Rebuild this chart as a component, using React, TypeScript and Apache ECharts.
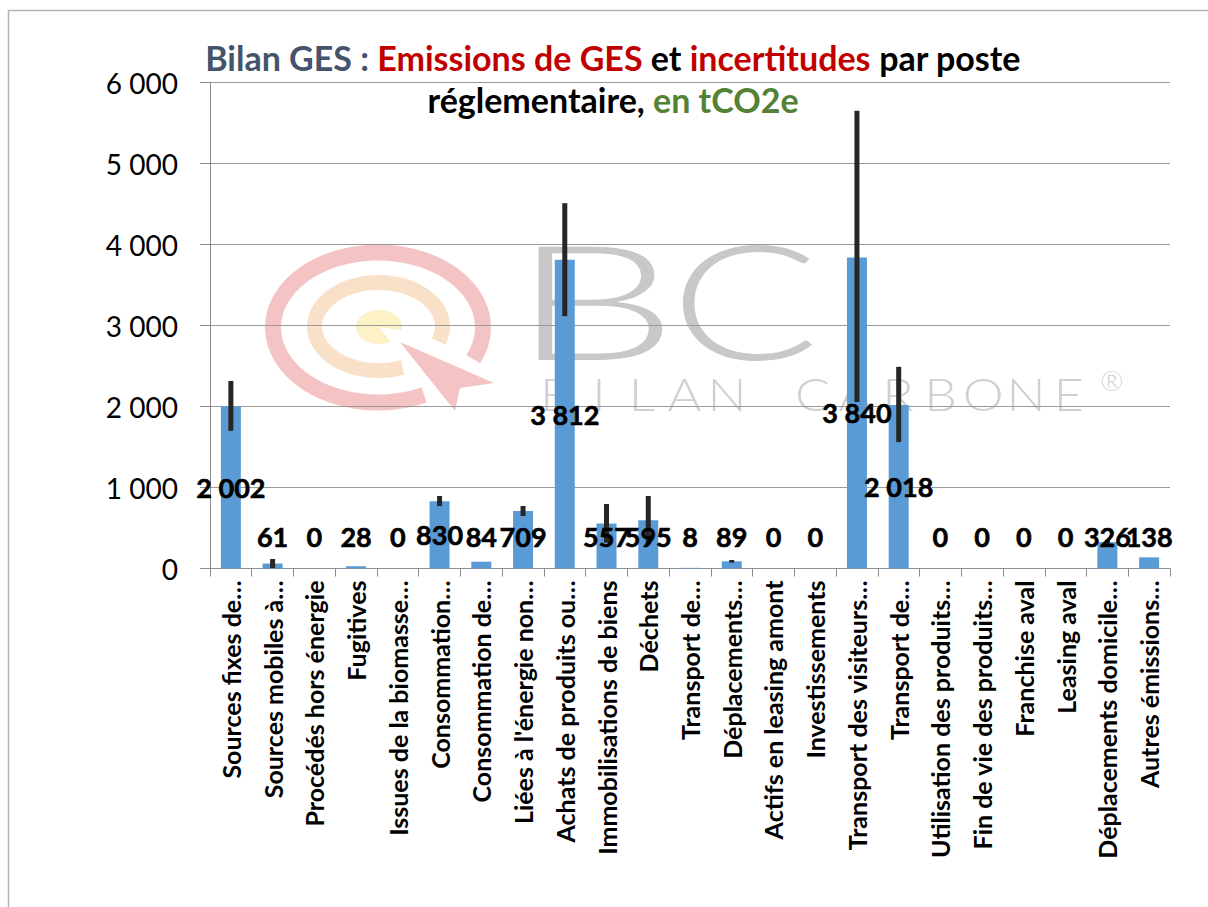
import React, { useEffect, useRef } from "react";
import * as echarts from "echarts";

const categories = [
  "Sources fixes de…",
  "Sources mobiles à…",
  "Procédés hors énergie",
  "Fugitives",
  "Issues de la biomasse…",
  "Consommation…",
  "Consommation de…",
  "Liées à l'énergie non…",
  "Achats de produits ou…",
  "Immobilisations de biens",
  "Déchets",
  "Transport de…",
  "Déplacements…",
  "Actifs en leasing amont",
  "Investissements",
  "Transport des visiteurs…",
  "Transport de…",
  "Utilisation des produits…",
  "Fin de vie des produits…",
  "Franchise aval",
  "Leasing aval",
  "Déplacements domicile…",
  "Autres émissions…",
];

const values = [2002, 61, 0, 28, 0, 830, 84, 709, 3812, 557, 595, 8, 89, 0, 0, 3840, 2018, 0, 0, 0, 0, 326, 138];

const errorLow: (number | null)[] = [1700, 5, null, null, null, 770, null, 648, 3115, 318, 295, null, 73, null, null, 2055, 1560, null, null, null, null, 296, null];
const errorHigh: (number | null)[] = [2315, 117, null, null, null, 895, null, 772, 4510, 796, 895, null, 105, null, null, 5650, 2490, null, null, null, null, 356, null];

const yMin = 0;
const yMax = 6000;
const yStep = 1000;

const labelFloor = 395;

function fmt(v: number): string {
  return String(v).replace(/\B(?=(\d{3})+(?!\d))/g, " ");
}

function ellipseArc(cx: number, cy: number, rx: number, ry: number, a0: number, a1: number) {
  const pts: number[][] = [];
  const n = 90;
  for (let k = 0; k <= n; k++) {
    const t = ((a0 + ((a1 - a0) * k) / n) * Math.PI) / 180;
    pts.push([cx + rx * Math.cos(t), cy + ry * Math.sin(t)]);
  }
  return pts;
}

function buildWatermark(): any[] {
  const Z = -10;
  const els: any[] = [];
  els.push({
    type: "polyline",
    z: Z,
    silent: true,
    shape: { points: ellipseArc(378, 327.5, 105, 75, 64, 385) },
    style: { stroke: "#F4C4C4", lineWidth: 16, fill: null },
  });
  els.push({
    type: "polyline",
    z: Z,
    silent: true,
    shape: { points: ellipseArc(378.5, 326.5, 64, 44, 68, 380) },
    style: { stroke: "#F8E1C8", lineWidth: 15, fill: null },
  });
  const yel = ellipseArc(379, 327, 23, 17, 60, 372);
  yel.push([379, 327]);
  els.push({
    type: "polygon",
    z: Z,
    silent: true,
    shape: { points: yel },
    style: { fill: "#FDF1C6" },
  });
  els.push({
    type: "polygon",
    z: Z,
    silent: true,
    shape: { points: [[400, 342], [494, 383], [460, 388], [455, 411]] },
    style: { fill: "#F4C4C4" },
  });
  els.push({
    type: "text",
    z: Z,
    silent: true,
    x: 511,
    y: 298,
    scaleX: 1.65,
    style: { text: "B", fill: "#C8C8C8", fontSize: 160, fontWeight: 300, fontFamily: "Lato", verticalAlign: "middle", align: "left" },
  });
  els.push({
    type: "text",
    z: Z,
    silent: true,
    x: 670,
    y: 298,
    scaleX: 1.38,
    style: { text: "C", fill: "#C8C8C8", fontSize: 160, fontWeight: 300, fontFamily: "Lato", verticalAlign: "middle", align: "left" },
  });
  const word = "BILAN CARBONE";
  const pitch = 42.7;
  for (let k = 0; k < word.length; k++) {
    els.push({
      type: "text",
      z: Z,
      silent: true,
      x: 535 + k * pitch + pitch / 2,
      y: 393,
      scaleX: 1.15,
      style: {
        text: word[k],
        fill: "#D0D0D0",
        fontSize: 45,
        fontWeight: 300,
        fontFamily: "Lato",
        align: "center",
        verticalAlign: "middle",
      },
    });
  }
  els.push({
    type: "text",
    z: Z,
    silent: true,
    x: 1100,
    y: 366,
    style: { text: "®", fill: "#D0D0D0", fontSize: 28, fontWeight: 300, fontFamily: "Lato", align: "left", verticalAlign: "top" },
  });
  els.push({
    type: "line",
    z: Z,
    silent: true,
    shape: { x1: 8, y1: 10.5, x2: 1208, y2: 10.5 },
    style: { stroke: "#B5B5B5", lineWidth: 1.5 },
  });
  els.push({
    type: "line",
    z: Z,
    silent: true,
    shape: { x1: 8.5, y1: 10, x2: 8.5, y2: 907 },
    style: { stroke: "#B5B5B5", lineWidth: 1.5 },
  });
  return els;
}

export default function App() {
  const ref = useRef<HTMLDivElement>(null);

  useEffect(() => {
    document.body.style.margin = "0";
    document.body.style.overflow = "hidden";
    if (!ref.current) return;
    const chart = echarts.init(ref.current, undefined, { renderer: "svg" });

    const errData = values
      .map((_, i) => (errorLow[i] != null && errorHigh[i] != null ? [i, errorLow[i], errorHigh[i]] : null))
      .filter((d) => d !== null);

    const labelData = values.map((v, i) => [i, Math.max(v / 2, labelFloor), v]);

    const font = "Lato, 'Open Sans', sans-serif";
    const tfs = 34;
    const lh = 42;

    chart.setOption({
      animation: false,
      backgroundColor: "#ffffff",
      title: {
        text:
          "{a|Bilan GES : }{r|Emissions de GES}{k| et }{r|incertitudes}{k| par poste}\n{k|réglementaire, }{g|en tCO2e}",
        left: 613,
        top: 36,
        padding: 0,
        textAlign: "center",
        textStyle: {
          fontFamily: font,
          fontSize: tfs,
          fontWeight: "bold",
          lineHeight: lh,
          rich: {
            a: { color: "#44546A", fontSize: tfs, fontWeight: "bold", fontFamily: font, lineHeight: lh },
            r: { color: "#C00000", fontSize: tfs, fontWeight: "bold", fontFamily: font, lineHeight: lh },
            k: { color: "#000000", fontSize: tfs, fontWeight: "bold", fontFamily: font, lineHeight: lh },
            g: { color: "#548235", fontSize: tfs, fontWeight: "bold", fontFamily: font, lineHeight: lh },
          },
        },
      },
      graphic: buildWatermark(),
      grid: { left: 210, right: 38, top: 82.5, bottom: 338.5, containLabel: false },
      xAxis: {
        type: "category",
        data: categories,
        axisLine: { show: true, lineStyle: { color: "#8C8C8C", width: 1 } },
        axisTick: { show: true, alignWithLabel: false, interval: 0, length: 8, lineStyle: { color: "#8C8C8C" } },
        axisLabel: {
          interval: 0,
          rotate: 90,
          margin: 12,
          fontSize: 25,
          fontWeight: "bold",
          color: "#000000",
          fontFamily: font,
        },
        splitLine: { show: false },
      },
      yAxis: {
        type: "value",
        min: yMin,
        max: yMax,
        interval: yStep,
        axisLine: { show: true, lineStyle: { color: "#8C8C8C", width: 1 } },
        axisTick: { show: true, length: 10, lineStyle: { color: "#8C8C8C" } },
        axisLabel: {
          fontSize: 28,
          color: "#000000",
          fontFamily: font,
          margin: 32,
          formatter: (v: number) => fmt(v),
        },
        splitLine: { show: true, lineStyle: { color: "#9A9A9A", width: 1 } },
      },
      series: [
        {
          type: "bar",
          data: values,
          barWidth: 20,
          itemStyle: { color: "#5B9BD5" },
          z: 2,
        },
        {
          type: "custom",
          z: 3,
          data: errData,
          renderItem: (params: any, api: any) => {
            const i = api.value(0);
            const lo = api.coord([i, api.value(1)]);
            const hi = api.coord([i, api.value(2)]);
            return {
              type: "line",
              shape: { x1: lo[0], y1: lo[1], x2: hi[0], y2: hi[1] },
              style: { stroke: "#262626", lineWidth: 5 },
            };
          },
        },
        {
          type: "custom",
          z: 4,
          data: labelData,
          renderItem: (params: any, api: any) => {
            const p = api.coord([api.value(0), api.value(1)]);
            return {
              type: "text",
              x: p[0],
              y: p[1],
              style: {
                text: fmt(api.value(2)),
                fontSize: 27,
                fontWeight: "bold",
                fontFamily: "Lato",
                fill: "#000000",
                stroke: "#000000",
                lineWidth: 0.6,
                align: "center",
                verticalAlign: "middle",
              },
            };
          },
        },
      ],
    });

    return () => {
      chart.dispose();
    };
  }, []);

  return <div ref={ref} style={{ width: 1208, height: 907 }} />;
}
